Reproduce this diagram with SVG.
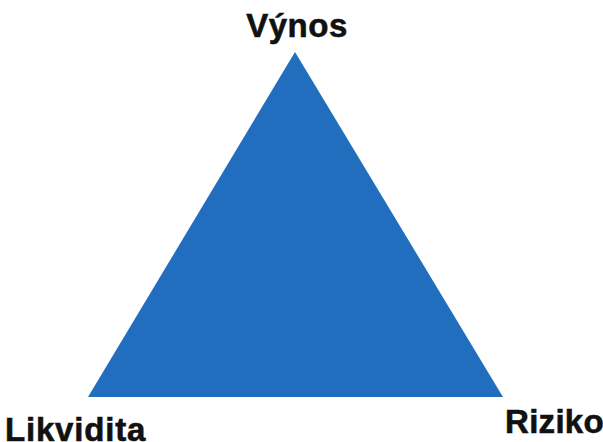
<svg xmlns="http://www.w3.org/2000/svg" width="603" height="442" viewBox="0 0 603 442">
<style>
.lbl{font-family:"Liberation Sans",Arial,sans-serif;font-weight:bold;font-size:33px;fill:#111;stroke:#111;stroke-width:0.6}
</style>
<rect width="603" height="442" fill="#fff"/>
<g id="triangle">
<polygon points="295,52 88,397 503,397" fill="#216ebf"/>
</g>
<g id="vynos"><text class="lbl" x="297" y="37" text-anchor="middle" letter-spacing="0.5">Výnos</text></g>
<g id="likvidita"><text class="lbl" x="5" y="441" letter-spacing="0.8">Likvidita</text></g>
<g id="riziko"><text class="lbl" x="505" y="433" letter-spacing="0.3">Riziko</text></g>
</svg>
